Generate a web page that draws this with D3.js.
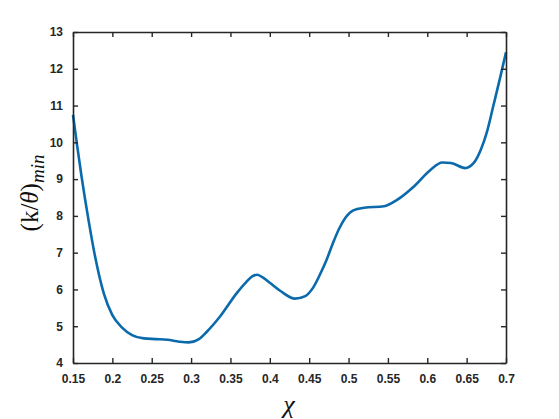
<!DOCTYPE html>
<html lang="en">
	<head>
		<meta charset="utf-8">
		<title>k/theta min vs chi</title>
		<script type="text/javascript" src="https://cdn.jsdelivr.net/npm/d3@7"></script>
		<style type="text/css">
			body { margin: 0; background: #fff; }
			.tick text { font-family: "Liberation Sans", Arial, sans-serif; font-weight: bold; font-size: 12px; fill: #262626; }
		</style>
	</head>
	<body>
		<script type="text/javascript">
			var w = 559;
			var h = 419;
			var margin = {top: 32, right: 53, bottom: 56, left: 73};

			// chi values and (k/theta)_min
			var chi = [0.150, 0.155, 0.161, 0.170, 0.178, 0.189, 0.200, 0.212, 0.225, 0.240,
						0.255, 0.270, 0.285, 0.297, 0.310, 0.320, 0.337, 0.358, 0.370, 0.378,
						0.384, 0.390, 0.400, 0.414, 0.432, 0.445, 0.455, 0.464, 0.472, 0.480,
						0.488, 0.496, 0.506, 0.520, 0.545, 0.562, 0.583, 0.604, 0.619, 0.630,
						0.648, 0.659, 0.668, 0.676, 0.684, 0.693, 0.700];
			var kTheta = [10.75, 9.95, 9.05, 7.85, 6.9, 5.9, 5.3, 4.97, 4.76, 4.67,
						4.65, 4.63, 4.58, 4.56, 4.65, 4.85, 5.27, 5.90, 6.20, 6.36,
						6.40, 6.34, 6.18, 5.95, 5.75, 5.82, 6.05, 6.42, 6.80, 7.25,
						7.65, 7.95, 8.15, 8.22, 8.26, 8.44, 8.80, 9.25, 9.45, 9.44,
						9.30, 9.44, 9.80, 10.3, 11.0, 11.8, 12.45];
			var xTicks = [0.15, 0.2, 0.25, 0.3, 0.35, 0.4, 0.45, 0.5, 0.55, 0.6, 0.65, 0.7];
			var yTicks = [4, 5, 6, 7, 8, 9, 10, 11, 12, 13];

			var iw = w - margin.left - margin.right;
			var ih = h - margin.top - margin.bottom;

			var xScale = d3.scaleLinear().domain([0.15, 0.7]).range([0, iw]);
			var yScale = d3.scaleLinear().domain([4, 13]).range([ih, 0]);

			var svg = d3.select("body")
						.append("svg")
						.attr("width", w)
						.attr("height", h);

			var g = svg.append("g")
						.attr("transform", "translate(" + margin.left + "," + margin.top + ")");

			//line
			var line = d3.line()
						.x(function(d, i) { return xScale(chi[i]); })
						.y(function(d) { return yScale(d); })
						.curve(d3.curveMonotoneX);

			g.append("path")
				.datum(kTheta)
				.attr("d", line)
				.attr("fill", "none")
				.attr("stroke", "#0b6aab")
				.attr("stroke-width", 2.6);

			//axes, ticks pointing inward
			function styleAxis(sel) {
				sel.select(".domain").attr("stroke", "#262626").attr("stroke-width", 1.6);
				sel.selectAll(".tick line").attr("stroke", "#262626").attr("stroke-width", 1.4);
			}

			g.append("g")
				.attr("transform", "translate(0," + ih + ")")
				.call(d3.axisBottom(xScale).tickValues(xTicks).tickSizeInner(-5).tickSizeOuter(0)
					.tickPadding(11).tickFormat(d3.format("")))
				.call(styleAxis);

			g.append("g")
				.call(d3.axisTop(xScale).tickValues(xTicks).tickSizeInner(-5).tickSizeOuter(0).tickFormat(""))
				.call(styleAxis);

			g.append("g")
				.call(d3.axisLeft(yScale).tickValues(yTicks).tickSizeInner(-5).tickSizeOuter(0)
					.tickPadding(10).tickFormat(d3.format("d")))
				.call(styleAxis);

			g.append("g")
				.attr("transform", "translate(" + iw + ",0)")
				.call(d3.axisRight(yScale).tickValues(yTicks).tickSizeInner(-5).tickSizeOuter(0).tickFormat(""))
				.call(styleAxis);

			g.selectAll(".tick text").attr("fill", "#262626");

			//axis labels
			svg.append("text")
				.attr("x", 289)
				.attr("y", 413)
				.attr("text-anchor", "middle")
				.attr("font-family", "Liberation Serif, serif")
				.attr("font-style", "italic")
				.attr("font-size", "26px")
				.attr("fill", "#111")
				.text("χ");

			var yl = svg.append("text")
				.attr("transform", "translate(38,193) rotate(-90)")
				.attr("text-anchor", "middle")
				.attr("font-family", "Liberation Serif, serif")
				.attr("font-size", "25px")
				.attr("fill", "#111");
			yl.append("tspan").text("(k/");
			yl.append("tspan").attr("font-style", "italic").text("θ");
			yl.append("tspan").text(")");
			yl.append("tspan").attr("font-style", "italic").attr("font-size", "19px").attr("dy", 6).text("min");
		</script>
	</body>
</html>
